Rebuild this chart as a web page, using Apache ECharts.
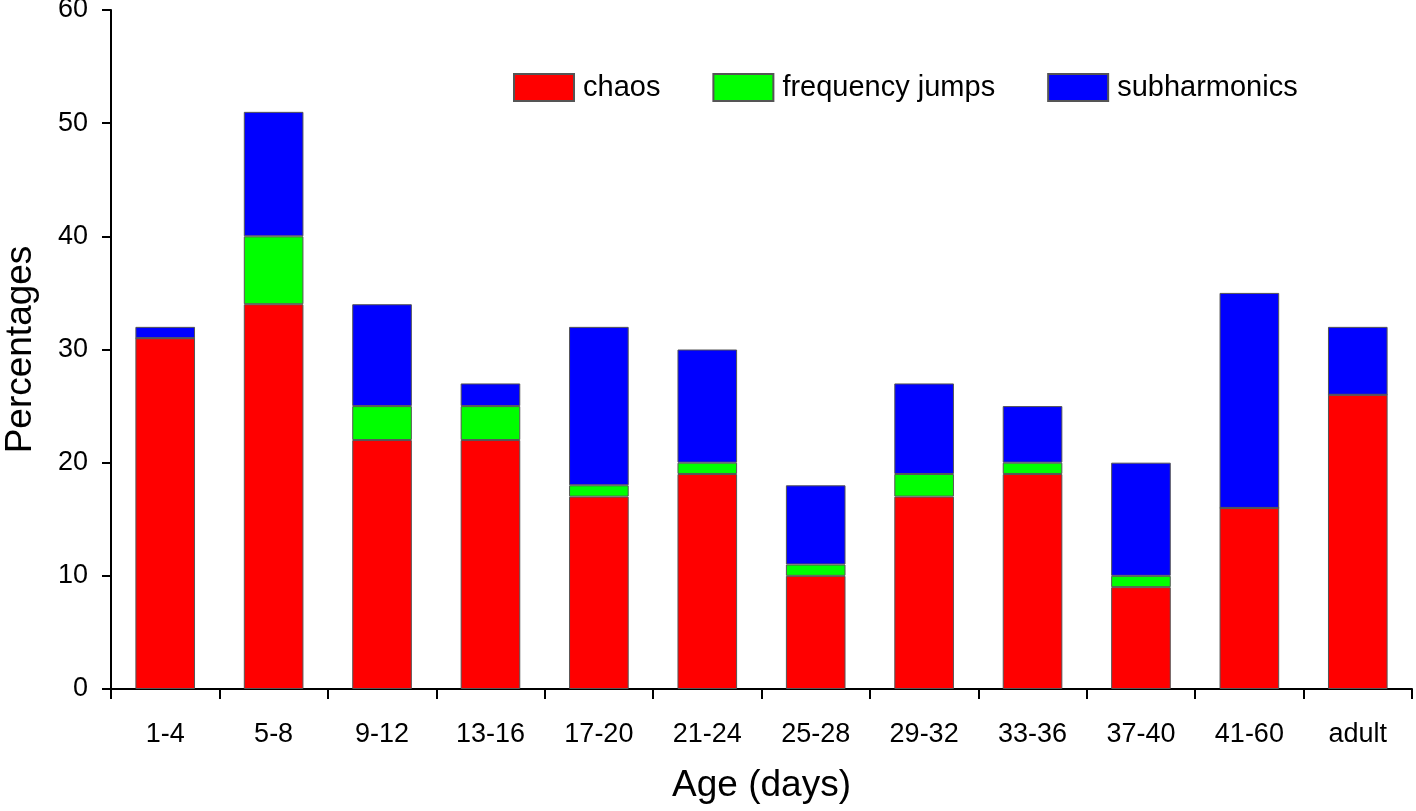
<!DOCTYPE html>
<html><head><meta charset="utf-8">
<script src="https://cdn.jsdelivr.net/npm/echarts@6/dist/echarts.min.js"></script>
<style>html,body{margin:0;padding:0;background:#fff}#c{width:1416px;height:811px}</style>
</head><body><div id="c"></div>
<script>
const categories = ['1-4','5-8','9-12','13-16','17-20','21-24','25-28','29-32','33-36','37-40','41-60','adult'];
const chaos = [31,34,22,22,17,19,10,17,19,9,16,26];
const frequencyJumps = [0,6,3,3,1,1,1,2,1,1,0,0];
const subharmonics = [1,11,9,2,14,10,7,8,5,10,19,6];
const yTicks = [0,10,20,30,40,50,60];

const chart = echarts.init(document.getElementById('c'));
const F = 'Liberation Sans, Arial, sans-serif';
const border = {borderColor:'#555', borderWidth:1};
chart.setOption({
  animation:false,
  backgroundColor:'#fff',
  grid:{left:111,right:4,top:10,bottom:122,containLabel:false,outerBoundsMode:'none'},
  legend:{
    top:68, left:508, itemWidth:60, itemHeight:27, itemGap:52, icon:'rect',
    textStyle:{fontFamily:F,fontSize:29,color:'#000',padding:[0,0,0,4]},
    data:['chaos','frequency jumps','subharmonics']
  },
  xAxis:{
    type:'category', data:categories,
    axisLine:{lineStyle:{color:'#000',width:2}},
    axisTick:{show:true,length:10,alignWithLabel:false,lineStyle:{color:'#000',width:2}},
    axisLabel:{fontFamily:F,fontSize:27,color:'#000',margin:32,interval:0},
    name:'Age (days)', nameLocation:'middle', nameGap:78,
    nameTextStyle:{fontFamily:F,fontSize:37,color:'#000'}
  },
  yAxis:{
    type:'value', min:yTicks[0], max:yTicks[yTicks.length-1], interval:10,
    splitLine:{show:false},
    axisLine:{show:true,lineStyle:{color:'#000',width:2}},
    axisTick:{show:true,length:9,lineStyle:{color:'#000',width:2}},
    axisLabel:{fontFamily:F,fontSize:27,color:'#000',margin:23},
    name:'Percentages', nameLocation:'middle', nameGap:72,
    nameTextStyle:{fontFamily:F,fontSize:37,color:'#000'}
  },
  series:[
    {name:'chaos',type:'bar',stack:'a',data:chaos,barWidth:'55%',itemStyle:Object.assign({color:'#ff0000'},border)},
    {name:'frequency jumps',type:'bar',stack:'a',data:frequencyJumps,barWidth:'55%',itemStyle:Object.assign({color:'#00ff00'},border)},
    {name:'subharmonics',type:'bar',stack:'a',data:subharmonics,barWidth:'55%',itemStyle:Object.assign({color:'#0000ff'},border)}
  ]
});
</script></body></html>
